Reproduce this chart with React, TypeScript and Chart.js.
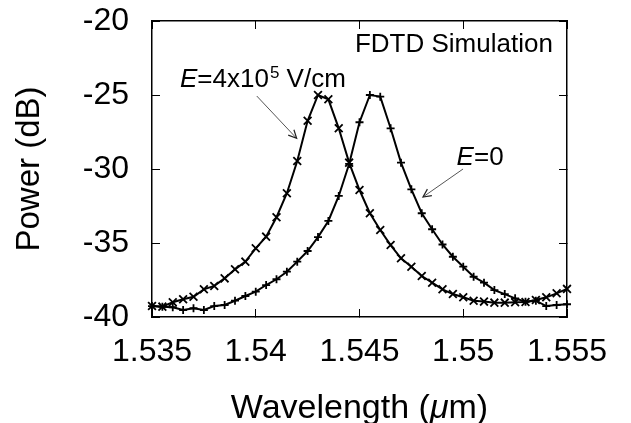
import React, { useEffect, useRef } from 'react';
import { Chart, registerables } from 'chart.js';

Chart.register(...registerables);

// Wavelength samples (µm)
const wavelengths = [
  1.535, 1.5355, 1.536, 1.5365, 1.537, 1.5375, 1.538, 1.5385, 1.539, 1.5395,
  1.54, 1.5405, 1.541, 1.5415, 1.542, 1.5425, 1.543, 1.5435, 1.544, 1.5445,
  1.545, 1.5455, 1.546, 1.5465, 1.547, 1.5475, 1.548, 1.5485, 1.549, 1.5495,
  1.55, 1.5505, 1.551, 1.5515, 1.552, 1.5525, 1.553, 1.5535, 1.554, 1.5545,
  1.555,
];

// E = 4x10^5 V/cm (x markers)
const powerField = [
  -39.26, -39.3, -39.0, -38.8, -38.63, -38.13, -37.9, -37.39, -36.78, -36.26,
  -35.36, -34.57, -33.26, -31.64, -29.46, -26.74, -25.0, -25.29, -27.25, -29.57,
  -31.42, -32.99, -34.12, -35.14, -36.03, -36.6, -37.23, -37.68, -38.13, -38.45,
  -38.67, -38.9, -38.96, -39.03, -39.03, -39.0, -38.99, -38.85, -38.67, -38.4,
  -38.1,
];

// E = 0 (+ markers)
const powerZero = [
  -39.26, -39.3, -39.34, -39.53, -39.41, -39.53, -39.26, -39.19, -38.9, -38.58,
  -38.29, -37.84, -37.45, -36.94, -36.26, -35.54, -34.6, -33.51, -31.82, -29.66,
  -26.84, -25.0, -25.11, -27.25, -29.57, -31.37, -32.99, -34.07, -35.1, -35.93,
  -36.6, -37.28, -37.68, -38.18, -38.45, -38.74, -38.97, -38.9, -39.26, -39.19,
  -39.14,
];

const xTickValues = [1.535, 1.54, 1.545, 1.55, 1.555];
const xTickLabels = ['1.535', '1.54', '1.545', '1.55', '1.555'];
const yTickValues = [-40, -35, -30, -25, -20];
const yTickLabels = ['-40', '-35', '-30', '-25', '-20'];

const FONT = '"Liberation Sans", Arial, Helvetica, sans-serif';

const annotationPlugin = {
  id: 'annotations',
  afterDraw(chart: any) {
    const ctx = chart.ctx as CanvasRenderingContext2D;
    const xs = chart.scales.x;
    const ys = chart.scales.y;
    const ca = chart.chartArea;
    const px = (v: number) => xs.getPixelForValue(v);
    const py = (v: number) => ys.getPixelForValue(v);
    ctx.save();
    ctx.fillStyle = '#000';
    ctx.textBaseline = 'alphabetic';

    // FDTD Simulation
    ctx.font = `26px ${FONT}`;
    ctx.textAlign = 'right';
    ctx.fillText('FDTD Simulation', px(1.55432), py(-22.09));

    // E=4x10^5 V/cm
    ctx.textAlign = 'left';
    let x = px(1.53635);
    const by = py(-24.44);
    ctx.font = `italic 26px ${FONT}`;
    ctx.fillText('E', x, by);
    x += ctx.measureText('E').width;
    ctx.font = `26px ${FONT}`;
    ctx.fillText('=4x10', x, by);
    x += ctx.measureText('=4x10').width + 1;
    ctx.font = `17px ${FONT}`;
    ctx.fillText('5', x, by - 9);
    x += ctx.measureText('5').width;
    ctx.font = `26px ${FONT}`;
    ctx.fillText(' V/cm', x, by);

    // E=0
    x = px(1.54968);
    const by2 = py(-29.73);
    ctx.font = `italic 26px ${FONT}`;
    ctx.fillText('E', x, by2);
    x += ctx.measureText('E').width;
    ctx.font = `26px ${FONT}`;
    ctx.fillText('=0', x, by2);

    // arrows
    const arrow = (x1: number, y1: number, x2: number, y2: number) => {
      ctx.strokeStyle = '#555';
      ctx.lineWidth = 1;
      ctx.beginPath();
      ctx.moveTo(x1, y1);
      ctx.lineTo(x2, y2);
      ctx.stroke();
      const a = Math.atan2(y2 - y1, x2 - x1);
      const L = 9;
      const sp = 0.45;
      ctx.strokeStyle = '#222';
      ctx.lineWidth = 1.2;
      ctx.beginPath();
      ctx.moveTo(x2 - L * Math.cos(a - sp), y2 - L * Math.sin(a - sp));
      ctx.lineTo(x2, y2);
      ctx.lineTo(x2 - L * Math.cos(a + sp), y2 - L * Math.sin(a + sp));
      ctx.stroke();
    };
    arrow(px(1.54005), py(-25.07), px(1.54197), py(-27.93));
    arrow(px(1.54999), py(-30.0), px(1.54806), py(-31.89));

    // x-axis title with italic mu
    const parts: [string, boolean][] = [['Wavelength (', false], ['\u03bc', true], ['m)', false]];
    const setF = (it: boolean) => { ctx.font = `${it ? 'italic ' : ''}34px ${FONT}`; };
    let total = 0;
    for (const [t, it] of parts) { setF(it); total += ctx.measureText(t).width; }
    x = (ca.left + ca.right) / 2 - total / 2;
    const ty = 418;
    for (const [t, it] of parts) {
      setF(it);
      ctx.fillText(t, x, ty);
      x += ctx.measureText(t).width;
    }
    ctx.restore();
  },
};

export default function App() {
  const canvasRef = useRef<HTMLCanvasElement | null>(null);

  useEffect(() => {
    document.body.style.margin = '0';
    const canvas = canvasRef.current;
    if (!canvas) return;

    const tickFont = { family: FONT, size: 32 };
    const gridOpts = { drawOnChartArea: false, tickLength: -8, color: '#000', tickWidth: 1 };
    const borderOpts = { color: '#000', width: 1.5 };
    const zeroPad = (s: any) => { s.paddingLeft = 0; s.paddingRight = 0; s.paddingTop = 0; s.paddingBottom = 0; };
    const setXTicks = (s: any) => { s.ticks = xTickValues.map((v) => ({ value: v })); };
    const setYTicks = (s: any) => { s.ticks = yTickValues.map((v) => ({ value: v })); };

    const chart = new Chart(canvas, {
      type: 'line',
      data: {
        datasets: [
          {
            label: 'E=4x10^5 V/cm',
            data: wavelengths.map((w, i) => ({ x: w, y: powerField[i] })),
            borderColor: '#000',
            borderWidth: 2,
            pointStyle: 'crossRot',
            pointRadius: 5.5,
            pointBorderWidth: 1.8,
            pointBorderColor: '#000',
            pointBackgroundColor: '#000',
            tension: 0,
            fill: false,
            clip: false,
          },
          {
            label: 'E=0',
            data: wavelengths.map((w, i) => ({ x: w, y: powerZero[i] })),
            borderColor: '#000',
            borderWidth: 2,
            pointStyle: 'cross',
            pointRadius: 4,
            pointBorderWidth: 1.8,
            pointBorderColor: '#000',
            pointBackgroundColor: '#000',
            tension: 0,
            fill: false,
            clip: false,
          },
        ],
      },
      options: {
        animation: false,
        responsive: true,
        maintainAspectRatio: false,
        layout: { padding: { left: 0, top: 21, right: 64, bottom: 0 } },
        plugins: { legend: { display: false }, tooltip: { enabled: false } },
        scales: {
          x: {
            type: 'linear',
            position: 'bottom',
            min: 1.535,
            max: 1.555,
            afterBuildTicks: setXTicks,
            ticks: {
              callback: (_v: any, i: number) => xTickLabels[i],
              font: tickFont,
              color: '#000',
              padding: 24,
              maxRotation: 0,
              autoSkip: false,
            },
            grid: gridOpts,
            border: borderOpts,
            afterFit: (s: any) => { s.height = 106; zeroPad(s); },
          },
          x2: {
            type: 'linear',
            position: 'top',
            min: 1.535,
            max: 1.555,
            afterBuildTicks: setXTicks,
            ticks: { display: false },
            grid: gridOpts,
            border: borderOpts,
            afterFit: (s: any) => { s.height = 0; zeroPad(s); },
          },
          y: {
            type: 'linear',
            position: 'left',
            min: -40,
            max: -20,
            afterBuildTicks: setYTicks,
            ticks: {
              callback: (_v: any, i: number) => yTickLabels[i],
              font: tickFont,
              color: '#000',
              padding: 31,
              autoSkip: false,
            },
            title: {
              display: true,
              text: 'Power (dB)',
              color: '#000',
              font: { family: FONT, size: 33, lineHeight: 1 },
              padding: { top: 13, bottom: 0 },
            },
            grid: gridOpts,
            border: borderOpts,
            afterFit: (s: any) => { s.width = 152; zeroPad(s); },
          },
          y2: {
            type: 'linear',
            position: 'right',
            min: -40,
            max: -20,
            afterBuildTicks: setYTicks,
            ticks: { display: false },
            grid: gridOpts,
            border: borderOpts,
            afterFit: (s: any) => { s.width = 0; zeroPad(s); },
          },
        },
      },
      plugins: [annotationPlugin],
    } as any);

    return () => chart.destroy();
  }, []);

  return (
    <div style={{ width: 631, height: 423, position: 'relative', background: '#fff' }}>
      <canvas ref={canvasRef} />
    </div>
  );
}
